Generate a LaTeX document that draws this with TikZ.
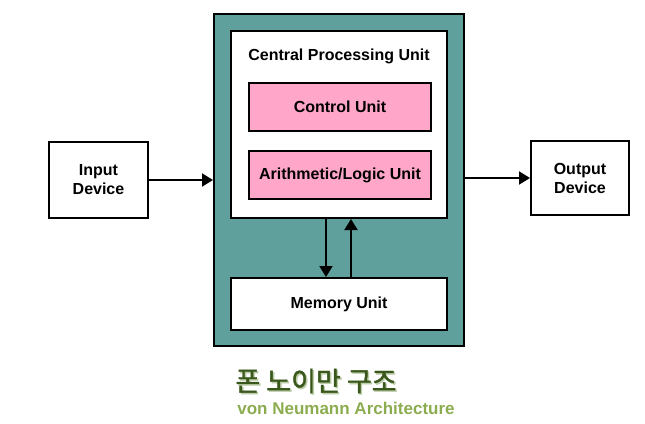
\documentclass[tikz,border=0pt]{standalone}
\usepackage{fontspec}
\setmainfont{Liberation Sans}
\newfontfamily\krfont[FakeBold=1.5]{Noto Sans CJK KR}
\usetikzlibrary{arrows.meta}
\definecolor{tealfill}{RGB}{96,160,156}
\definecolor{pinkfill}{RGB}{255,166,201}
\definecolor{krgreen}{RGB}{58,88,28}
\definecolor{krshadow}{RGB}{190,205,170}
\definecolor{engreen}{RGB}{140,172,80}
\tikzset{
  box/.style={draw=black, line width=2pt, fill=white, inner sep=0pt, font=\fontsize{16}{19}\selectfont\bfseries, align=center},
  pinkbox/.style={box, fill=pinkfill},
  arr/.style={line width=2pt, -{Triangle[width=13pt,length=11pt]}},
}
\begin{document}
\begin{tikzpicture}[x=1pt,y=-1pt]
\useasboundingbox (0,0) rectangle (645,423);
\node[box, fill=tealfill, minimum width=250, minimum height=332] (outer) at (339,180) {};
\node[box, minimum width=216, minimum height=187] (cpu) at (339,124.5) {};
\node[font=\fontsize{16}{19}\selectfont\bfseries] (cpulabel) at (339,56) {Central Processing Unit};
\node[pinkbox, minimum width=182, minimum height=48] (cu) at (340,107) {Control Unit};
\node[pinkbox, minimum width=182, minimum height=48] (alu) at (340,175) {Arithmetic/Logic Unit};
\node[box, minimum width=216, minimum height=52] (mem) at (339,304) {Memory Unit};
\node[box, minimum width=99, minimum height=76] (in) at (98.5,180) {Input\\Device};
\node[box, minimum width=98, minimum height=74] (out) at (580,178) {Output\\Device};
\draw[arr] (in.east) -- (outer.west);
\draw[arr] (outer.east |- out.west) -- (out.west);
\draw[arr] ([xshift=-13pt]cpu.south) -- ([xshift=-13pt]mem.north);
\draw[arr] ([xshift=12pt]mem.north) -- ([xshift=12pt]cpu.south);
\node[font=\krfont\fontsize{27}{30}\selectfont, text=krshadow] (krsh) at (317.5,382.5) {폰 노이만 구조};
\node[font=\krfont\fontsize{27}{30}\selectfont, text=krgreen] (kr) at (316,381) {폰 노이만 구조};
\node[font=\fontsize{17}{20}\selectfont\bfseries, text=engreen] (en) at (346,408) {von Neumann Architecture};
\end{tikzpicture}
\end{document}
